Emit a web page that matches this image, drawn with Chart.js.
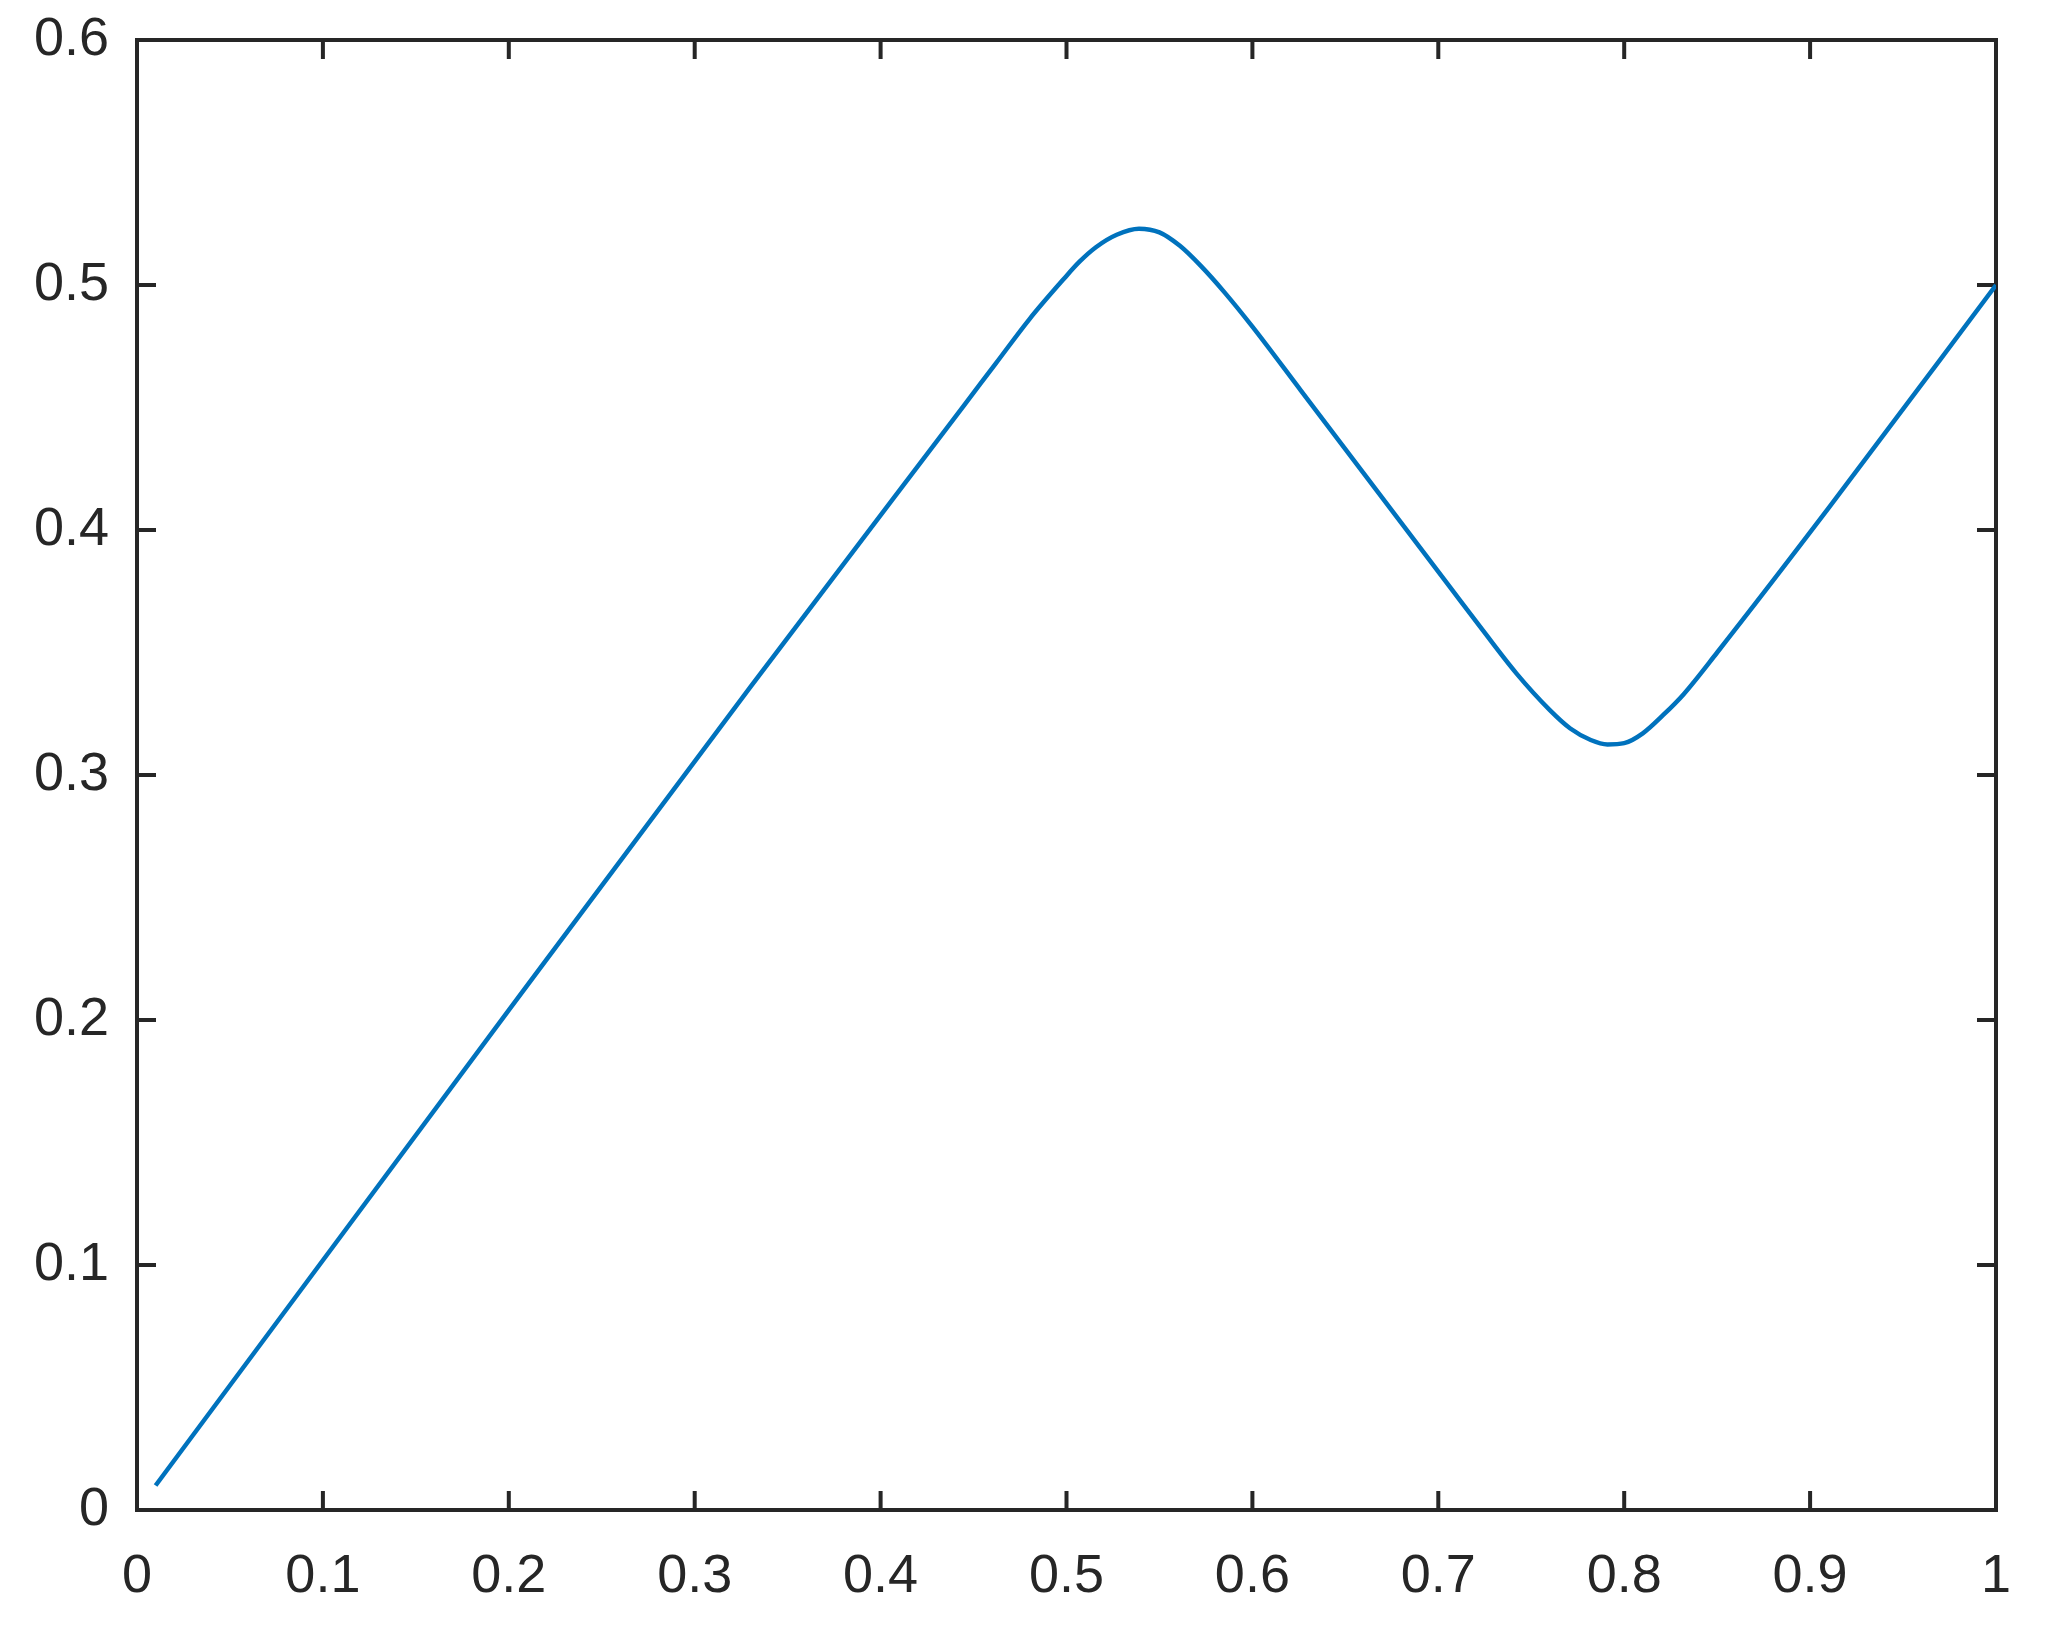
<!DOCTYPE html>
<html>
<head>
<meta charset="utf-8">
<script src="https://cdn.jsdelivr.net/npm/chart.js@4.4.1/dist/chart.umd.min.js"></script>
<style>
    html, body { margin: 0; padding: 0; background: #ffffff; }
    #wrap { width: 2045px; height: 1631px; }
</style>
</head>
<body>
<div id="wrap"><canvas id="lineChart"></canvas></div>
<script>
// Values
const xValues = [0.01, 0.2, 0.33, 0.445, 0.462, 0.48, 0.498, 0.507, 0.516, 0.527, 0.539, 0.55, 0.561, 0.572,
    0.585, 0.6, 0.626, 0.706, 0.724, 0.742, 0.76, 0.771, 0.782, 0.791, 0.8, 0.81, 0.821, 0.832, 0.85, 0.91, 1.0];
const yValues = [0.01, 0.204, 0.336, 0.451, 0.468, 0.486, 0.502, 0.5095, 0.5155, 0.5205, 0.523, 0.5215, 0.516, 0.508,
    0.497, 0.483, 0.457, 0.377, 0.359, 0.3415, 0.3265, 0.319, 0.3143, 0.3125, 0.313, 0.317, 0.3245, 0.333, 0.35, 0.409, 0.5];
const xTicks = [0, 0.1, 0.2, 0.3, 0.4, 0.5, 0.6, 0.7, 0.8, 0.9, 1];
const yTicks = [0, 0.1, 0.2, 0.3, 0.4, 0.5, 0.6];

const axisColor = '#262626';
const lineColor = '#0072bd';

// Box around the plot plus inward tick marks on all four sides
const framePlugin = {
    id: 'frame',
    beforeDatasetsDraw(chart) {
        const { ctx, chartArea: a, scales } = chart;
        const len = 19;
        ctx.save();
        ctx.strokeStyle = axisColor;
        ctx.lineWidth = 4;
        ctx.lineCap = 'square';
        ctx.strokeRect(a.left, a.top, a.right - a.left, a.bottom - a.top);
        ctx.lineCap = 'butt';
        ctx.beginPath();
        xTicks.forEach(v => {
            const x = scales.x.getPixelForValue(v);
            ctx.moveTo(x, a.bottom); ctx.lineTo(x, a.bottom - len);
            ctx.moveTo(x, a.top); ctx.lineTo(x, a.top + len);
        });
        yTicks.forEach(v => {
            const y = scales.y.getPixelForValue(v);
            ctx.moveTo(a.left, y); ctx.lineTo(a.left + len, y);
            ctx.moveTo(a.right, y); ctx.lineTo(a.right - len, y);
        });
        ctx.stroke();
        ctx.restore();
    }
};

new Chart(document.getElementById('lineChart').getContext('2d'), {
    type: 'line',
    data: {
        datasets: [{
            data: xValues.map((x, i) => ({ x: x, y: yValues[i] })),
            borderColor: lineColor,
            borderWidth: 4.5,
            pointRadius: 0,
            fill: false,
            cubicInterpolationMode: 'monotone'
        }]
    },
    options: {
        responsive: true,
        maintainAspectRatio: false,
        animation: false,
        layout: { autoPadding: false, padding: { left: 0, top: 40, right: 49, bottom: 0 } },
        plugins: { legend: { display: false }, tooltip: { enabled: false } },
        scales: {
            x: {
                type: 'linear',
                min: 0,
                max: 1,
                afterFit: s => { s.height = 121; s.paddingLeft = 0; s.paddingRight = 0; },
                afterBuildTicks: s => { s.ticks = xTicks.map(v => ({ value: v })); },
                grid: { display: false, drawTicks: false },
                border: { display: false },
                ticks: {
                    color: axisColor,
                    padding: 35,
                    maxRotation: 0,
                    font: { family: 'Liberation Sans, Arial, sans-serif', size: 54 },
                    callback: v => String(v)
                }
            },
            y: {
                type: 'linear',
                min: 0,
                max: 0.6,
                afterFit: s => { s.width = 137; s.paddingTop = 0; s.paddingBottom = 0; },
                afterBuildTicks: s => { s.ticks = yTicks.map(v => ({ value: v })); },
                grid: { display: false, drawTicks: false },
                border: { display: false },
                ticks: {
                    color: axisColor,
                    padding: 28,
                    font: { family: 'Liberation Sans, Arial, sans-serif', size: 54 },
                    callback: v => String(v)
                }
            }
        }
    },
    plugins: [framePlugin]
});
</script>
</body>
</html>
